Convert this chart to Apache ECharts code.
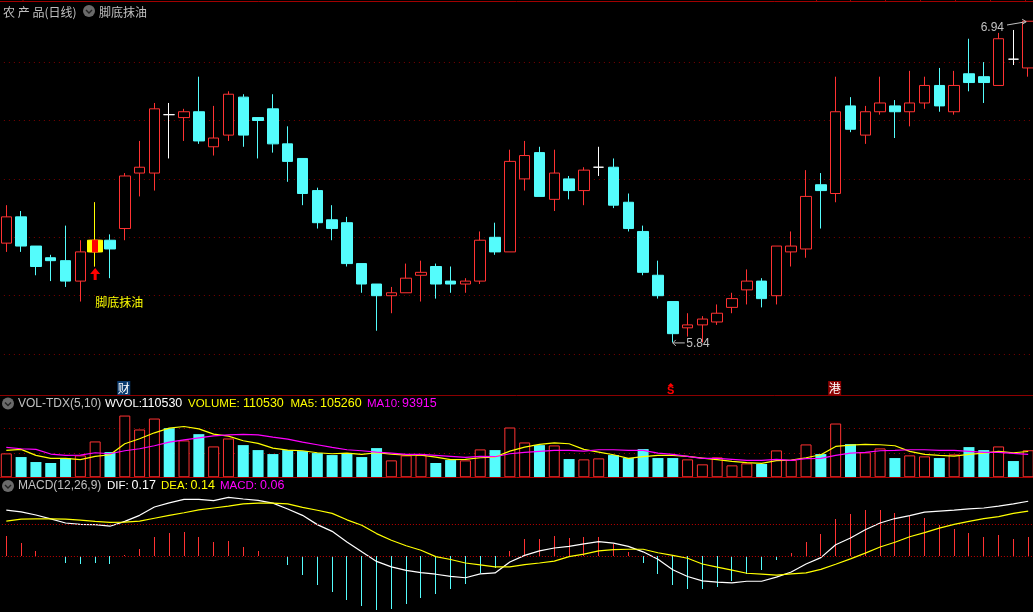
<!DOCTYPE html>
<html><head><meta charset="utf-8">
<style>html,body{margin:0;padding:0;background:#000;overflow:hidden}#c{width:1033px;height:612px}</style>
<script src="https://cdn.jsdelivr.net/npm/echarts@6/dist/echarts.min.js"></script>
</head><body><div id="c"></div>
<script>
const opens=[6.18,6.27,6.17,6.13,6.12,6.05,6.15,6.19,6.23,6.42,6.42,6.62,6.61,6.63,6.51,6.55,6.68,6.61,6.64,6.52,6.47,6.36,6.26,6.25,6.11,6.04,6.00,6.01,6.07,6.10,6.05,6.04,6.05,6.20,6.15,6.40,6.49,6.33,6.40,6.36,6.44,6.44,6.32,6.22,6.07,5.98,5.89,5.90,5.91,5.96,6.02,6.05,6.00,6.15,6.16,6.38,6.35,6.65,6.55,6.63,6.65,6.63,6.66,6.72,6.63,6.76,6.75,6.72,6.81,6.78];
const closes=[6.27,6.17,6.10,6.12,6.05,6.15,6.19,6.16,6.41,6.44,6.64,6.62,6.63,6.53,6.54,6.69,6.55,6.60,6.52,6.46,6.35,6.25,6.23,6.11,6.04,6.00,6.01,6.06,6.08,6.04,6.04,6.05,6.19,6.15,6.46,6.48,6.34,6.42,6.36,6.43,6.44,6.31,6.23,6.08,6.00,5.87,5.90,5.92,5.94,5.99,6.05,5.99,6.17,6.17,6.34,6.36,6.63,6.57,6.63,6.66,6.63,6.66,6.72,6.65,6.72,6.73,6.73,6.88,6.81,6.94];
const lows=[6.15,6.15,6.07,6.05,6.03,5.98,6.10,6.06,6.19,6.34,6.36,6.47,6.53,6.52,6.48,6.53,6.51,6.47,6.49,6.39,6.31,6.23,6.19,6.10,6.01,5.88,5.94,6.01,5.98,5.99,6.01,6.01,6.04,6.14,6.15,6.36,6.34,6.29,6.33,6.31,6.41,6.30,6.22,6.07,5.99,5.84,5.86,5.84,5.90,5.94,5.97,5.96,5.97,6.10,6.13,6.23,6.32,6.56,6.52,6.62,6.54,6.58,6.64,6.63,6.62,6.70,6.66,6.72,6.79,6.75];
const highs=[6.31,6.29,6.17,6.14,6.24,6.19,6.32,6.21,6.42,6.53,6.66,6.66,6.64,6.75,6.65,6.70,6.69,6.61,6.69,6.58,6.47,6.37,6.31,6.27,6.11,6.04,6.03,6.11,6.12,6.11,6.10,6.06,6.22,6.25,6.50,6.53,6.51,6.50,6.41,6.44,6.51,6.47,6.35,6.24,6.12,5.98,5.94,5.93,5.97,6.01,6.09,6.06,6.17,6.22,6.43,6.42,6.75,6.68,6.65,6.75,6.67,6.77,6.75,6.78,6.77,6.88,6.80,6.90,6.91,6.94];
const volumes=[97560,82650,62330,58265,78590,89430,146340,102980,252030,195120,239835,200540,150400,176150,126000,158500,131435,111110,94850,111110,107045,98900,90785,98915,82655,119240,69100,89430,90785,58265,70460,69100,113820,111110,203250,142275,131435,130080,74525,73170,77235,90785,78590,115175,78590,78590,73170,52845,81300,48780,56910,54200,109755,70460,134145,94850,219510,135500,101625,117885,78590,89430,85365,78590,93495,123305,111110,126015,66395,110530];
const volUp=[1,0,0,0,0,1,1,0,1,1,1,0,1,0,1,1,0,0,0,0,0,0,0,0,0,0,1,1,1,0,0,1,1,0,1,1,0,1,0,1,1,0,0,0,0,0,1,1,1,1,1,0,1,1,1,0,1,0,1,1,0,1,1,0,1,0,0,1,0,1];
const ma5=[109800,113800,89400,77200,77200,71800,85400,92100,136900,157200,181600,200500,207300,197800,176200,168000,149100,138200,119200,111100,108400,100300,96200,98900,93500,100300,94900,90800,90800,82700,71800,73200,79900,82700,107000,123300,134100,140900,136900,113800,103000,92100,77200,84000,89400,89400,85400,78600,71800,65000,59600,56900,67800,70500,79900,92100,126000,131400,134100,132800,128700,105700,93500,89400,86700,93500,98900,105700,100300,105260];
const ma10=[122000,116500,113800,94900,89400,90800,100300,96200,108400,116500,128700,143600,153100,161200,169400,173400,174800,173400,164000,155800,143600,132800,122000,112500,108400,103000,98900,93500,93500,89400,85400,81300,85400,84000,96200,101600,105700,109800,109800,107000,112500,112500,109800,109800,98900,93500,85400,77200,77200,73200,69100,69100,73200,69100,75900,77200,89400,98900,101600,108400,109800,112500,112500,109800,109800,105700,101600,101600,97600,93915];
const dif=[.144,.139,.129,.117,.104,.100,.099,.094,.109,.128,.154,.167,.178,.178,.174,.184,.179,.175,.166,.148,.128,.099,.078,.045,.014,-.016,-.033,-.044,-.051,-.056,-.063,-.067,-.055,-.052,-.018,.003,.017,.026,.031,.039,.046,.041,.031,.014,-.009,-.042,-.063,-.077,-.081,-.083,-.078,-.078,-.065,-.049,-.024,-.004,.036,.057,.083,.104,.118,.127,.138,.141,.144,.148,.151,.157,.164,.172];
const dea=[.110,.116,.117,.117,.116,.113,.109,.106,.107,.110,.119,.128,.136,.145,.151,.157,.164,.166,.166,.164,.153,.144,.134,.114,.097,.071,.050,.033,.019,-.001,-.010,-.021,-.027,-.033,-.033,-.026,-.021,-.015,-.001,.007,.017,.021,.022,.022,.011,.003,-.006,-.024,-.034,-.043,-.053,-.056,-.059,-.055,-.052,-.041,-.025,-.008,.010,.029,.044,.061,.074,.088,.100,.109,.118,.124,.134,.141];
const macd=[.064,.042,.017,0,-.021,-.024,-.021,-.024,.003,.023,.060,.073,.076,.060,.045,.048,.029,.017,0,-.027,-.058,-.090,-.111,-.136,-.155,-.168,-.165,-.149,-.130,-.118,-.102,-.086,-.052,-.036,.017,.054,.054,.064,.057,.060,.060,.039,.014,-.021,-.055,-.090,-.102,-.102,-.096,-.077,-.055,-.043,-.011,.010,.045,.070,.117,.132,.145,.145,.135,.126,.120,.098,.085,.073,.060,.067,.054,.060];
const dates=opens.map((_,i)=>String(i));
const signalIndex=6;
const title='农 产 品(日线)', indicator='脚底抹油';
const RED='#ff3232',CYAN='#54fcfc',YEL='#ffff00',MAG='#ff00ff',GRAY='#c0c0c0';

const candle=opens.map((o,i)=>{
  const c=closes[i],doji=o===c;
  const it={value:[o,c,lows[i],highs[i]]};
  if(doji) it.itemStyle={color:'#fff',color0:'#fff',borderColor:'#fff',borderColor0:'#fff',borderColorDoji:'#fff'};
  return it;
});
const blank=()=>opens.map(()=>['-','-','-','-']);
const sigOuter=blank(); sigOuter[signalIndex]=[opens[signalIndex],closes[signalIndex],lows[signalIndex],highs[signalIndex]];
const sigInner=blank(); sigInner[signalIndex]=[opens[signalIndex],closes[signalIndex],opens[signalIndex],closes[signalIndex]];

const L=-1.1,W=1036.7;
const hidden=g=>({type:'category',gridIndex:g,data:dates,show:false,boundaryGap:true});
const yA=(g,o,col,dash)=>Object.assign({type:'value',gridIndex:g,scale:false,axisLine:{show:false},axisTick:{show:false},axisLabel:{show:false},
  splitLine:{show:true,showMaxLine:false,showMinLine:g===0,lineStyle:{color:col,type:dash,width:1}}},o);

const chart=echarts.init(document.getElementById('c'),null,{renderer:'canvas',width:1033,height:612});
chart.setOption({
  animation:false,backgroundColor:'#000',
  grid:[{left:L,width:W,top:3.7,height:350.4,outerBoundsMode:'none'},{left:L,width:W,top:403.8,height:73.5,outerBoundsMode:'none'},{left:L,width:W,top:492.3,height:120,outerBoundsMode:'none'}],
  xAxis:[hidden(0),hidden(1),hidden(2)],
  yAxis:[
    yA(0,{min:5.8,max:7.0,interval:0.2},'#7a0000',[1,4]),
    yA(1,{min:0,max:300000,interval:100000},'#a00000',[1,4]),
    yA(2,{min:-0.175,max:0.2,splitLine:{show:false}},'#000','solid')
  ],
  series:[
    {type:'candlestick',xAxisIndex:0,yAxisIndex:0,barWidth:11,data:candle,clip:false,
     itemStyle:{color:'#000',color0:CYAN,borderColor:RED,borderColor0:CYAN,borderColorDoji:'#fff',borderWidth:1}},
    {type:'candlestick',xAxisIndex:0,yAxisIndex:0,barWidth:15,z:3,data:sigOuter,
     itemStyle:{color:YEL,color0:YEL,borderColor:YEL,borderColor0:YEL,borderWidth:1}},
    {type:'candlestick',xAxisIndex:0,yAxisIndex:0,barWidth:5,z:4,data:sigInner,
     itemStyle:{color:'#ff0000',color0:'#ff0000',borderColor:'#ff0000',borderColor0:'#ff0000',borderWidth:1}},
    {type:'bar',xAxisIndex:1,yAxisIndex:1,barWidth:11,z:2,
     data:volumes.map((v,i)=>({value:v,itemStyle:volUp[i]?{color:'#000',borderColor:RED,borderWidth:1}:{color:CYAN,borderWidth:0}}))},
    {type:'line',xAxisIndex:1,yAxisIndex:1,data:ma5,symbol:'none',z:3,lineStyle:{color:YEL,width:1.2}},
    {type:'line',xAxisIndex:1,yAxisIndex:1,data:ma10,symbol:'none',z:4,lineStyle:{color:MAG,width:1.2}},
    {type:'custom',xAxisIndex:2,yAxisIndex:2,z:3,clip:false,
     data:macd.map((v,i)=>[i,v]),encode:{x:0,y:1},
     renderItem:(params,api)=>{
       const v=api.value(1), top=api.coord([api.value(0),v]), base=api.coord([api.value(0),0]);
       const x=Math.round(top[0]-0.5), y0=Math.min(top[1],base[1]), h=Math.abs(top[1]-base[1]);
       return {type:'rect',shape:{x,y:Math.round(y0),width:1,height:Math.round(h)},style:{fill:v>=0?RED:CYAN}};
     }},
    {type:'line',xAxisIndex:2,yAxisIndex:2,data:dif,symbol:'none',z:4,lineStyle:{color:'#fff',width:1.2},
     markLine:{silent:true,symbol:'none',label:{show:false},animation:false,
       lineStyle:{color:'#c00000',type:[1,2],width:1},data:[{yAxis:0},{yAxis:0.1}]}},
    {type:'line',xAxisIndex:2,yAxisIndex:2,data:dea,symbol:'none',z:5,lineStyle:{color:YEL,width:1.2}}
  ]
});

const px=(i,v)=>chart.convertToPixel({gridIndex:0},[i,v]);
const FONT='12px "Liberation Sans",Arial,sans-serif', CJK='12px "Noto Sans CJK SC",sans-serif', NUM='12.5px "Liberation Sans",Arial,sans-serif', LBL='11.5px "Liberation Sans",Arial,sans-serif';
const txt=(x,y,t,fill,font,align)=>({type:'text',x,y,z:20,style:{text:t,fill,font:font||FONT,textVerticalAlign:'middle',textAlign:align||'left'}});
const line=(x1,y1,x2,y2,c,w)=>({type:'line',z:15,shape:{x1,y1,x2,y2},style:{stroke:c,lineWidth:w||1}});
const icon=(x,y)=>[
  {type:'circle',z:20,shape:{cx:x,cy:y,r:6},style:{fill:'#6a6a6a'}},
  {type:'polyline',z:21,shape:{points:[[x-3,y-1],[x,y+2],[x+3,y-1]]},style:{stroke:'#222',fill:null,lineWidth:1.4}}
];
const g=[];
g.push(line(0,1.5,1033,1.5,'#a00000'),line(0,395.5,1033,395.5,'#8b0000'),line(0,477.5,1033,477.5,'#b00000'));
[23,816.5,850.5,885.5,920.5,955.5,990.5,1025.5].forEach(x=>g.push(line(x,0,x,1,'#a00000')));
g.push(txt(3,12,title,GRAY,CJK),...icon(89,11),txt(99,12,indicator,GRAY,CJK));
g.push(...icon(8,403.5),txt(18,404,'VOL-TDX(5,10)',GRAY),txt(105,404,'WVOL:','#fff',LBL),txt(141.5,404,'110530','#fff',NUM),
  txt(188,404,'VOLUME:',YEL,LBL),txt(243,404,'110530',YEL,NUM),txt(290.5,404,'MA5:',YEL,LBL),txt(320,404,'105260',YEL,NUM),
  txt(367,404,'MA10:',MAG,LBL),txt(402,404,'93915',MAG,NUM));
g.push(...icon(8,486),txt(18,486,'MACD(12,26,9)',GRAY),txt(107,486,'DIF:','#fff',LBL),txt(131.5,486,'0.17','#fff',NUM),
  txt(161,486,'DEA:',YEL,LBL),txt(190.5,486,'0.14',YEL,NUM),txt(220,486,'MACD:',MAG,LBL),txt(260,486,'0.06',MAG,NUM));
const a=px(signalIndex,6.074);
const ax=a[0];
g.push({type:'polygon',z:20,shape:{points:[[ax,a[1]-6],[ax+5,a[1]],[ax+1.5,a[1]],[ax+1.5,a[1]+6],[ax-1.5,a[1]+6],[ax-1.5,a[1]],[ax-5,a[1]]]},style:{fill:'#ff0000'}});
const s=px(signalIndex,5.977);
g.push(txt(s[0],s[1],indicator,YEL,CJK));
const hi=px(69,6.94), lo=px(45,5.84);
g.push(line(1007,25,hi[0]-2,hi[1]+0.5,GRAY),line(hi[0]-2,hi[1]+0.5,hi[0]-6,hi[1]-2,GRAY),line(hi[0]-2,hi[1]+0.5,hi[0]-6,hi[1]+3,GRAY));
g.push(txt(1004,27.5,'6.94',GRAY,FONT,'right'));
g.push(line(lo[0],lo[1]+.5,lo[0]+12,lo[1]+.5,GRAY),line(lo[0],lo[1]+.5,lo[0]+3,lo[1]-2.5,GRAY),line(lo[0],lo[1]+.5,lo[0]+3,lo[1]+3.5,GRAY));
g.push(txt(lo[0]+13.5,lo[1]+1,'5.84',GRAY));
const tx=i=>px(i,6)[0];
const tag=(i,t,bg)=>[{type:'rect',z:18,shape:{x:tx(i)-7.5,y:381,width:13,height:14},style:{fill:bg}},txt(tx(i)-1,388.5,t,'#fff',CJK,'center')];
g.push(...tag(8,'财','#0a3a6e'),...tag(56,'港','#8b0000'));
g.push({type:'polygon',z:20,shape:{points:[[tx(45)-2,383],[tx(45)+1,386],[tx(45)-5,386]]},style:{fill:'#ff0000'}});
g.push(txt(tx(45)-2,391,'S','#ff0000','bold 11px "Liberation Sans"','center'));
chart.setOption({graphic:{elements:g}});
</script></body></html>
